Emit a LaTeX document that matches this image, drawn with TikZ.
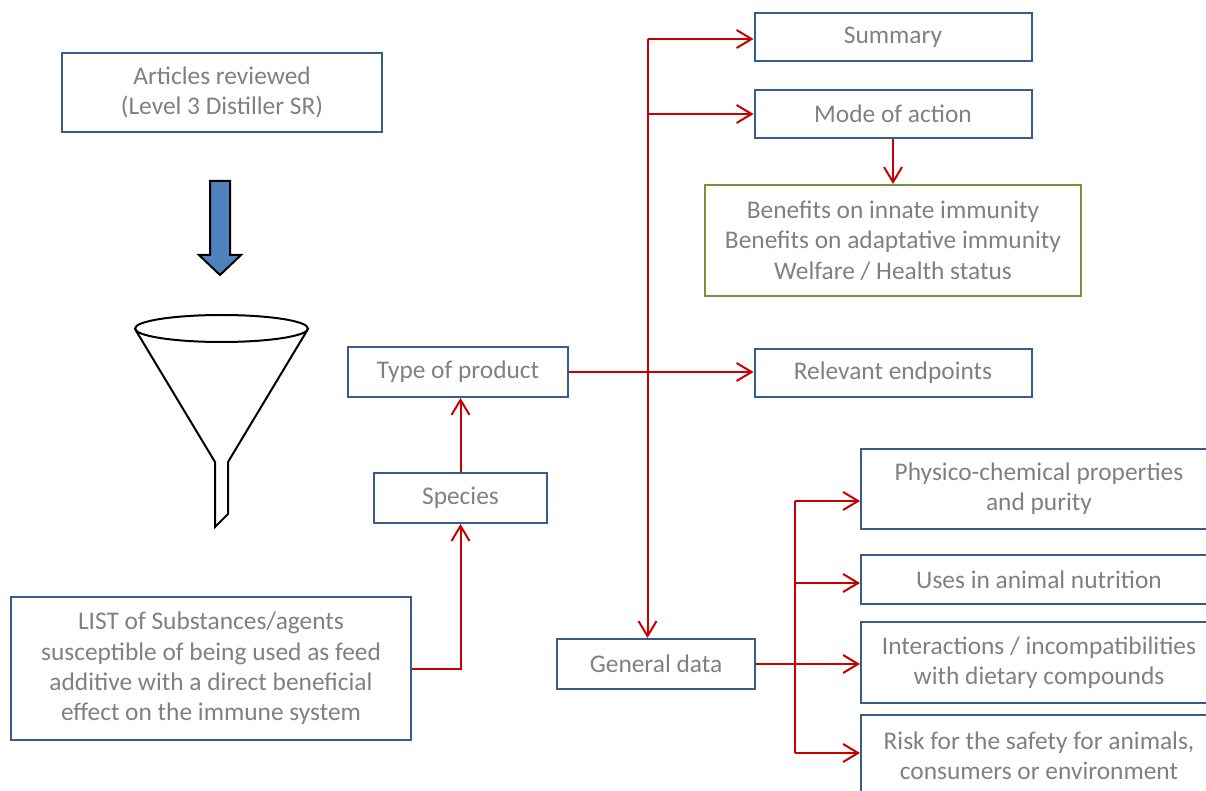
\documentclass[tikz,border=0pt]{standalone}
\usepackage{fontspec}
\setmainfont{Carlito}
\usetikzlibrary{arrows.meta}
\definecolor{boxblue}{RGB}{56,93,138}
\definecolor{boxgreen}{RGB}{119,147,60}
\definecolor{linkred}{RGB}{200,0,0}
\definecolor{txtgray}{RGB}{128,128,128}
\definecolor{arrowblue}{RGB}{79,129,189}
\begin{document}
\begin{tikzpicture}[x=0.5pt,y=-0.5pt,
    >={Straight Barb[length=7.5pt,width=9pt]},
    box/.style={draw=boxblue,line width=1pt,text=txtgray,align=center,inner sep=0pt,
      font=\fontsize{12.7}{15.2}\selectfont},
    link/.style={->,draw=linkred,line width=1pt}]
    \clip(0,0)rectangle(1206,791);
    % left column
    \node[box,minimum width=160pt,minimum height=39.5pt](articles) at (222,92.5){Articles reviewed\\(Level 3 Distiller SR)};
    \draw[fill=arrowblue,line width=1pt](210,181)--(230,181)--(230,255)--(241,255)--(220,275)--(199,255)--(210,255)--cycle;
    \draw[line width=1pt](221.5,328.5)ellipse[x radius=86.5,y radius=13.5];
    \draw[line width=1pt](135,329)--(215,462)--(215,527)--(228,514)--(228,462)--(308,329);
    \node[box,minimum width=200pt,minimum height=71.5pt](list) at (211,668.5){LIST of Substances/agents\\susceptible of being used as feed\\additive with a direct beneficial\\effect on the immune system};
    \node[box,minimum width=86.5pt,minimum height=25pt](species) at (460.5,498){Species};
    \node[box,minimum width=110pt,minimum height=25pt](product) at (458,372){Type of product};
    % right column
    \node[box,minimum width=138.5pt,minimum height=24pt](summary) at (893,37){Summary};
    \node[box,minimum width=138.5pt,minimum height=24pt](mode) at (893,114){Mode of action};
    \node[box,draw=boxgreen,minimum width=188pt,minimum height=55.5pt](benefits) at (893,240.5){Benefits on innate immunity\\Benefits on adaptative immunity\\Welfare / Health status};
    \node[box,minimum width=138.5pt,minimum height=24pt](endpoints) at (893,373){Relevant endpoints};
    \node[box,minimum width=99pt,minimum height=25pt](general) at (656,664){General data};
    \node[box,minimum width=178pt,minimum height=40pt](physico) at (1039,489){Physico-chemical properties\\and purity};
    \node[box,minimum width=178pt,minimum height=24.5pt](uses) at (1039,579.5){Uses in animal nutrition};
    \node[box,minimum width=178pt,minimum height=40.5pt](interact) at (1039,662.5){Interactions / incompatibilities\\with dietary compounds};
    \node[box,minimum width=178pt,minimum height=40.5pt](risk) at (1039,755.5){Risk for the safety for animals,\\consumers or environment};
    % connectors
    \coordinate(trunk) at (647.5,39);
    \coordinate(fork) at (795,664);
    \draw[link](list.east)-|(species.south);
    \draw[link](species.north)--(species.north|-product.south);
    \draw[link](trunk)--(trunk-|summary.west);
    \draw[link](trunk|-mode.west)--(mode.west);
    \draw[link](trunk)--(trunk|-general.north);
    \draw[link](product.east)--(product.east-|endpoints.west);
    \draw[link](mode.south)--(mode.south|-benefits.north);
    \draw[draw=linkred,line width=1pt](general.east)--(fork);
    \draw[draw=linkred,line width=1pt](795,501)--(795,753);
    \draw[link](795,501)--(physico.west|-795,501);
    \draw[link](795,583)--(uses.west|-795,583);
    \draw[link](fork)--(interact.west|-fork);
    \draw[link](795,753)--(risk.west|-795,753);
\end{tikzpicture}
\end{document}
